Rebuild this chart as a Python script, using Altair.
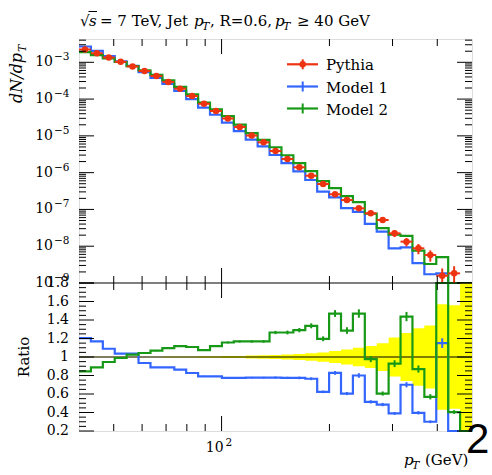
import altair as alt
import pandas as pd

# ---------------- data ----------------
# bin edges (GeV), logarithmic binning 40-500
edges = [40.00, 43.18, 46.62, 50.33, 54.33, 58.65, 63.32, 68.35, 73.79, 79.66,
         86.00, 92.84, 100.22, 108.19, 116.80, 126.09, 136.12, 146.94, 158.63, 171.24,
         184.86, 199.57, 215.44, 232.58, 251.08, 271.05, 292.60, 315.87, 341.00, 368.12,
         397.40, 429.00, 463.12, 500.00]

# reference generator dN/dpT per bin
pythia = [2.23e-3, 1.76e-3, 1.35e-3, 1.03e-3, 7.69e-4, 5.80e-4, 4.24e-4, 2.93e-4, 1.92e-4, 1.21e-4,
          7.45e-5, 4.74e-5, 2.96e-5, 1.74e-5, 1.02e-5, 6.68e-6, 3.88e-6, 2.35e-6, 1.40e-6, 8.25e-7,
          4.91e-7, 2.58e-7, 1.80e-7, 1.07e-7, 7.84e-8, 5.16e-8, 2.24e-8, 1.33e-8, 8.77e-9, 5.76e-9,
          1.58e-9, 1.83e-9, 6.5e-10]

# relative statistical uncertainty of the reference
pythia_err = [0.002, 0.002, 0.003, 0.003, 0.003, 0.004, 0.004, 0.005, 0.005, 0.006,
              0.007, 0.008, 0.010, 0.012, 0.015, 0.018, 0.022, 0.027, 0.033, 0.040,
              0.050, 0.065, 0.080, 0.100, 0.120, 0.150, 0.210, 0.260, 0.310, 0.340,
              0.570, 0.560, 1.000]

# model / reference ratios per bin (0 = empty bin)
model1_ratio = [1.205, 1.168, 1.089, 1.036, 1.036, 0.935, 0.888, 0.888, 0.863, 0.827,
                0.791, 0.791, 0.774, 0.774, 0.776, 0.776, 0.778, 0.774, 0.774, 0.765,
                0.623, 0.828, 0.605, 0.800, 0.515, 0.486, 0.390, 0.700, 0.397, 0.300,
                1.150, 0.0, 0.0]
model2_ratio = [0.845, 0.888, 0.946, 0.989, 1.025, 1.043, 1.068, 1.097, 1.118, 1.108,
                1.075, 1.118, 1.157, 1.168, 1.168, 1.168, 1.265, 1.265, 1.290, 1.337,
                1.197, 1.470, 1.286, 1.470, 0.978, 0.605, 0.928, 1.437, 0.870, 0.570,
                3.200, 0.405, 0.0]

# relative statistical uncertainty of the models
model1_err = [0.003, 0.003, 0.003, 0.004, 0.004, 0.004, 0.005, 0.005, 0.006, 0.006,
              0.007, 0.008, 0.009, 0.010, 0.011, 0.012, 0.014, 0.016, 0.018, 0.020,
              0.022, 0.025, 0.028, 0.031, 0.034, 0.037, 0.040, 0.040, 0.045, 0.050,
              0.045, 0.0, 0.0]
model2_err = [0.003, 0.003, 0.003, 0.004, 0.004, 0.004, 0.005, 0.005, 0.006, 0.006,
              0.007, 0.008, 0.009, 0.010, 0.011, 0.012, 0.014, 0.016, 0.018, 0.020,
              0.022, 0.025, 0.028, 0.031, 0.034, 0.037, 0.040, 0.035, 0.045, 0.050,
              0.050, 0.050, 0.0]

# axis ticks
x_major = [100]
x_minor = [50, 60, 70, 80, 90, 200, 300, 400]
y_decades = [1e-3, 1e-4, 1e-5, 1e-6, 1e-7, 1e-8, 1e-9]
y_exponents = ["\u22123", "\u22124", "\u22125", "\u22126", "\u22127", "\u22128", "\u22129"]
y_mantissas = [2, 3, 4, 5, 6, 7, 8, 9]
r_major = [0.2, 0.4, 0.6, 0.8, 1.0, 1.2, 1.4, 1.6, 1.8]
r_labels = ["0.2", "0.4", "0.6", "0.8", "1", "1.2", "1.4", "1.6", "1.8"]
r_minor = [0.25, 0.3, 0.35, 0.45, 0.5, 0.55, 0.65, 0.7, 0.75, 0.85, 0.9, 0.95,
           1.05, 1.1, 1.15, 1.25, 1.3, 1.35, 1.45, 1.5, 1.55, 1.65, 1.7, 1.75]

# ---------------- layout / style ----------------
W, H_TOP, H_RAT = 393, 244, 148
H = H_TOP + H_RAT
Y_MAX = 4.3e-3
RED, BLUE, GREEN, YELLOW = "#ee3311", "#3366ff", "#179917", "#ffff00"
FONT = "DejaVu Serif"
MAJ, MIN = 15, 7

n = len(pythia)
x_scale = alt.Scale(type="log", domain=[40, 500], nice=False)
top_scale = alt.Scale(type="log", domain=[1e-9, Y_MAX], range=[H_TOP, 0], clamp=True, nice=False)
rat_scale = alt.Scale(domain=[0.2, 1.8], range=[H, H_TOP], clamp=True, nice=False, zero=False)


def X(field):
    return alt.X(f"{field}:Q", scale=x_scale, axis=None)


def YT(field):
    return alt.Y(f"{field}:Q", scale=top_scale, axis=None)


def YR(field):
    return alt.Y(f"{field}:Q", scale=rat_scale, axis=None)


# step outlines for the models
step_rows = []
for name, ratios in (("Model 1", model1_ratio), ("Model 2", model2_ratio)):
    for i in range(n + 1):
        j = min(i, n - 1)
        step_rows.append({"series": name, "pt": edges[i],
                          "val": pythia[j] * ratios[j], "ratio": ratios[j]})
steps = pd.DataFrame(step_rows)

# per-bin error bars for the models
err_rows = []
for name, ratios, errs in (("Model 1", model1_ratio, model1_err),
                           ("Model 2", model2_ratio, model2_err)):
    for j in range(n):
        if ratios[j] > 0 and errs[j] > 0:
            v = pythia[j] * ratios[j]
            err_rows.append({"series": name, "pt": (edges[j] * edges[j + 1]) ** 0.5,
                             "vlo": v * (1 - errs[j]), "vhi": v * (1 + errs[j]),
                             "rlo": ratios[j] * (1 - errs[j]), "rhi": ratios[j] * (1 + errs[j])})
errs_df = pd.DataFrame(err_rows)

# reference points
ref = pd.DataFrame({
    "pt": [(edges[j] * edges[j + 1]) ** 0.5 for j in range(n)],
    "lo": edges[:-1], "hi": edges[1:], "val": pythia,
    "vlo": [pythia[j] * (1 - pythia_err[j]) for j in range(n)],
    "vhi": [pythia[j] * (1 + pythia_err[j]) for j in range(n)],
})

# reference uncertainty band for the ratio
band = pd.DataFrame({
    "pt": edges,
    "blo": [1 - pythia_err[min(i, n - 1)] for i in range(n + 1)],
    "bhi": [1 + pythia_err[min(i, n - 1)] for i in range(n + 1)],
})

# ---------------- upper panel ----------------
top_layers = []
for name, col in (("Model 1", BLUE), ("Model 2", GREEN)):
    top_layers.append(
        alt.Chart(steps).transform_filter(alt.datum.series == name)
        .transform_calculate(v="max(datum.val, 1e-15)")
        .mark_line(interpolate="step-after", color=col, strokeWidth=2.2)
        .encode(x=X("pt"), y=YT("v"))
    )
    top_layers.append(
        alt.Chart(errs_df).transform_filter(alt.datum.series == name)
        .mark_rule(color=col, strokeWidth=2)
        .encode(x=X("pt"), y=YT("vlo"), y2="vhi")
    )

ref_vis = alt.Chart(ref).transform_filter("datum.val >= 1e-9")
top_layers += [
    ref_vis.mark_rule(color=RED, strokeWidth=2).encode(x=X("lo"), x2="hi", y=YT("val")),
    ref_vis.mark_rule(color=RED, strokeWidth=2).encode(x=X("pt"), y=YT("vlo"), y2="vhi"),
    ref_vis.mark_circle(color=RED, size=42, opacity=1).encode(x=X("pt"), y=YT("val")),
]

ydec = pd.DataFrame({"t": y_decades, "e": y_exponents})
yminor = pd.DataFrame({"t": [m * d for d in y_decades for m in y_mantissas if m * d < Y_MAX]})
for df, ln in ((ydec, MAJ), (yminor, MIN)):
    top_layers.append(alt.Chart(df).mark_rule(color="black", strokeWidth=1)
                      .encode(y=YT("t"), x=alt.value(0), x2=alt.value(ln)))
    top_layers.append(alt.Chart(df).mark_rule(color="black", strokeWidth=1)
                      .encode(y=YT("t"), x=alt.value(W), x2=alt.value(W - ln)))
top_layers += [
    alt.Chart(ydec).mark_text(align="right", baseline="middle", font=FONT, fontSize=14, color="black")
    .encode(y=YT("t"), x=alt.value(-26), text=alt.value("10")),
    alt.Chart(ydec).mark_text(align="left", baseline="middle", font=FONT, fontSize=10.5, dy=-5, color="black")
    .encode(y=YT("t"), x=alt.value(-25), text="e:N"),
]
top = alt.layer(*top_layers)

# ---------------- ratio panel ----------------
rat_layers = [
    alt.Chart(band).mark_area(interpolate="step-after", color=YELLOW, opacity=1)
    .encode(x=X("pt"), y=YR("blo"), y2="bhi"),
    alt.Chart(pd.DataFrame({"r": [1.0]})).mark_rule(color="black", strokeWidth=1).encode(y=YR("r")),
]
for name, col in (("Model 1", BLUE), ("Model 2", GREEN)):
    rat_layers.append(
        alt.Chart(steps).transform_filter(alt.datum.series == name)
        .mark_line(interpolate="step-after", color=col, strokeWidth=2.2)
        .encode(x=X("pt"), y=YR("ratio"))
    )
    rat_layers.append(
        alt.Chart(errs_df).transform_filter(alt.datum.series == name)
        .mark_rule(color=col, strokeWidth=2)
        .encode(x=X("pt"), y=YR("rlo"), y2="rhi")
    )
# panel divider
rat_layers.append(alt.Chart(pd.DataFrame({"r": [1.8]})).mark_rule(color="black", strokeWidth=1.2)
                  .encode(y=YR("r")))

rmaj = pd.DataFrame({"t": r_major, "lab": r_labels})
rmin = pd.DataFrame({"t": r_minor})
for df, ln in ((rmaj, MAJ), (rmin, MIN)):
    rat_layers.append(alt.Chart(df).mark_rule(color="black", strokeWidth=1)
                      .encode(y=YR("t"), x=alt.value(0), x2=alt.value(ln)))
    rat_layers.append(alt.Chart(df).mark_rule(color="black", strokeWidth=1)
                      .encode(y=YR("t"), x=alt.value(W), x2=alt.value(W - ln)))
rat_layers.append(
    alt.Chart(rmaj).mark_text(align="right", baseline="middle", font=FONT, fontSize=14, color="black")
    .encode(y=YR("t"), x=alt.value(-10), text="lab:N")
)
ratio = alt.layer(*rat_layers)

# ---------------- x ticks on both panels ----------------
xmaj = pd.DataFrame({"t": x_major})
xmin = pd.DataFrame({"t": x_minor})
x_layers = []
for df, ln in ((xmaj, MAJ), (xmin, MIN)):
    for y0, sgn in ((0, 1), (H_TOP, -1), (H_TOP, 1), (H, -1)):
        x_layers.append(alt.Chart(df).mark_rule(color="black", strokeWidth=1)
                        .encode(x=X("t"), y=alt.value(y0), y2=alt.value(y0 + sgn * ln)))
x_layers += [
    alt.Chart(xmaj).mark_text(align="right", baseline="alphabetic", font=FONT, fontSize=14, dx=2, color="black")
    .encode(x=X("t"), y=alt.value(H + 21), text=alt.value("10")),
    alt.Chart(xmaj).mark_text(align="left", baseline="alphabetic", font=FONT, fontSize=10.5, dx=4, color="black")
    .encode(x=X("t"), y=alt.value(H + 15), text=alt.value("2")),
]

# ---------------- texts, legend ----------------
one = pd.DataFrame({"a": [0]})


def label(txt, x, y, size=15, style="normal", angle=0, align="left", font=FONT, baseline="alphabetic"):
    return alt.Chart(one).mark_text(text=txt, align=align, baseline=baseline, font=font,
                                    fontSize=size, fontStyle=style, angle=angle, color="black") \
        .encode(x=alt.value(x), y=alt.value(y))


deco = [
    # title
    label("\u221a", 1, -13),
    alt.Chart(one).mark_rule(color="black", strokeWidth=1)
    .encode(x=alt.value(9.5), x2=alt.value(18), y=alt.value(-27.5)),
    label("s", 10, -13, style="italic"),
    label("= 7 TeV, Jet", 21, -13),
    label("p", 115, -13, style="italic"),
    label("T", 123, -9.5, size=11, style="italic"),
    label(", R=0.6,", 131, -13),
    label("p", 196, -13, style="italic"),
    label("T", 204, -9.5, size=11, style="italic"),
    label("\u2265 40 GeV", 218, -13),
    # axis titles
    label("dN/dp", -57, 64, size=16, style="italic", angle=270),
    label("T", -53, 13, size=11, style="italic", angle=270),
    label("Ratio", -50, 318, angle=270, align="center"),
    label("p", 325, 426, style="italic"),
    label("T", 333, 429.5, size=11, style="italic"),
    label("(GeV)", 346, 426),
]

legend_rows = [("Pythia", RED, 25.3), ("Model 1", BLUE, 47.5), ("Model 2", GREEN, 69.5)]
for name, col, yy in legend_rows:
    deco.append(alt.Chart(one).mark_rule(color=col, strokeWidth=2.2)
                .encode(x=alt.value(208), x2=alt.value(239), y=alt.value(yy)))
    deco.append(alt.Chart(one).mark_rule(color=col, strokeWidth=2)
                .encode(x=alt.value(223.7), y=alt.value(yy - 5), y2=alt.value(yy + 5)))
    if name == "Pythia":
        deco.append(alt.Chart(one).mark_circle(color=col, size=42, opacity=1)
                    .encode(x=alt.value(223.7), y=alt.value(yy)))
    deco.append(label(name, 247, yy + 6))

deco.append(label("2", 387, 414, size=42, font="Liberation Sans"))

chart = alt.layer(top, ratio, *x_layers, *deco).resolve_scale(y="independent").properties(
    width=W, height=H,
    padding={"left": 79, "top": 39, "right": 20, "bottom": 44},
    autosize=alt.AutoSizeParams(type="none"),
).configure_view(stroke="black", strokeWidth=1.2).configure(background="white")

chart.save("out.html", embed_options={"renderer": "svg", "actions": False})
